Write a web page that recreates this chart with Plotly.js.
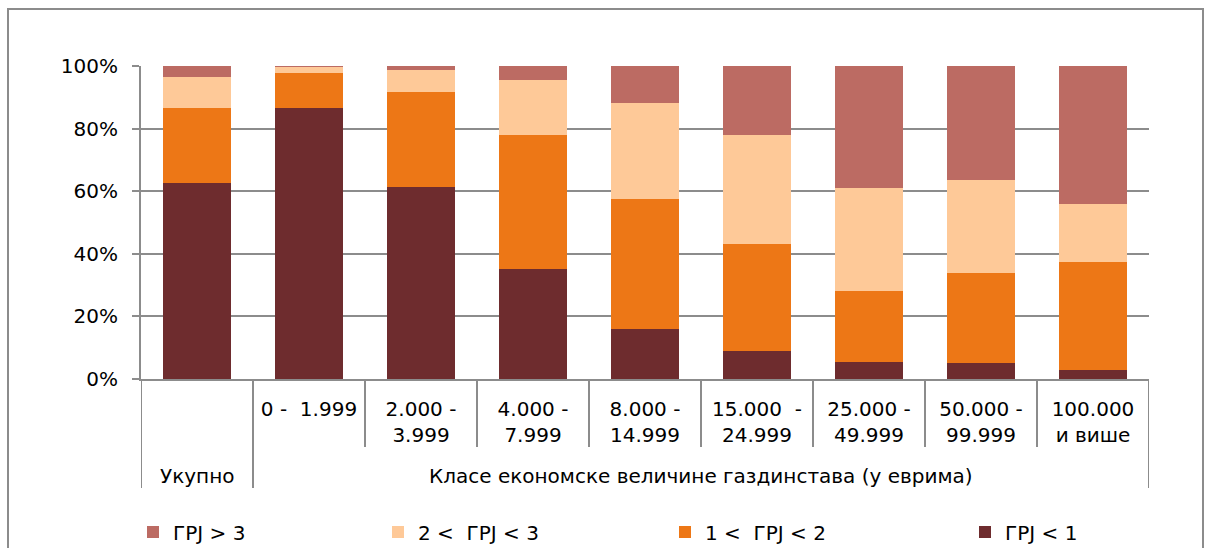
<!DOCTYPE html>
<html>
<head>
<meta charset="utf-8">
<script src="https://cdn.plot.ly/plotly-3.0.1.min.js"></script>
<style>
html,body{margin:0;padding:0;background:#fff;}
#chart{width:1205px;height:548px;}
</style>
</head>
<body>
<div id="chart"></div>
<script>
// Categories (x) and their displayed tick labels
const categories = ["Укупно", "0 - 1.999", "2.000 - 3.999", "4.000 - 7.999", "8.000 - 14.999",
  "15.000 - 24.999", "25.000 - 49.999", "50.000 - 99.999", "100.000 и више"];
const tickLabels = ["", "0 -\u00a0 1.999", "2.000 -<br>3.999", "4.000 -<br>7.999", "8.000 -<br>14.999",
  "15.000 \u00a0-<br>24.999", "25.000 -<br>49.999", "50.000 -<br>99.999", "100.000<br>и више"];
const groupTotal = "Укупно";
const groupClasses = "Класе економске величине газдинстава (у еврима)";

// Y ticks
const yTickValues = [0, 20, 40, 60, 80, 100];
const yTickLabels = ["0%", "20%", "40%", "60%", "80%", "100%"];

// Series (shares, %)
const grjBelow1 = [62.6, 86.7, 61.4, 35.0, 15.9, 9.0, 5.3, 5.1, 2.9];
const grj1to2   = [24.1, 11.2, 30.2, 42.8, 41.7, 34.1, 22.9, 28.7, 34.4];
const grj2to3   = [9.9, 1.9, 7.1, 17.7, 30.5, 34.7, 32.9, 29.7, 18.7];
const grjAbove3 = [3.4, 0.2, 1.3, 4.5, 11.9, 22.2, 38.9, 36.5, 44.0];

const seriesNames = ["ГРЈ < 1", "1 <\u00a0 ГРЈ < 2", "2 <\u00a0 ГРЈ < 3", "ГРЈ > 3"];
const seriesColors = ["#6E2C2E", "#ED7716", "#FEC998", "#BC6B63"];
const seriesData = [grjBelow1, grj1to2, grj2to3, grjAbove3];
const legendIds = ["legend4", "legend3", "legend2", "legend"];

const FONT = "DejaVu Sans, Verdana, sans-serif";
const FS = 20;

const traces = seriesData.map((vals, i) => ({
  type: "bar",
  x: categories,
  y: vals,
  name: seriesNames[i],
  marker: {color: seriesColors[i], line: {width: 0}},
  legend: legendIds[i],
  showlegend: true,
  hoverinfo: "x+y+name"
}));

// geometry helpers (plot area: x 141..1149, y 66..379)
const W = 1205, H = 548;
const plotTop = 66, plotBottom = 379, plotH = plotBottom - plotTop;
const plotLeft = 141, plotW = 1008;
const py = (pix) => (plotBottom - pix) / plotH;
const px = (pix) => (pix - plotLeft) / plotW;

const shapes = [];
// separators in the category table below the axis
for (let k = 0; k <= categories.length; k++) {
  const pos = k - 0.5;
  const isLong = (k === 0 || k === 1 || k === categories.length);
  shapes.push({
    type: "line", xref: "x", yref: "paper",
    x0: pos, x1: pos, y0: 0, y1: py(isLong ? 488 : 447),
    line: {color: "#8C8C8C", width: 2}
  });
}
// outer chart border
shapes.push({
  type: "rect", xref: "paper", yref: "paper",
  x0: px(8), x1: px(1203), y0: py(9), y1: py(560),
  line: {color: "#8C8C8C", width: 2}, fillcolor: "rgba(0,0,0,0)"
});

const annotations = [
  {xref: "x", yref: "paper", x: 0, y: py(476), text: groupTotal, showarrow: false,
   xanchor: "center", yanchor: "middle", font: {family: FONT, size: FS, color: "#000"}},
  {xref: "x", yref: "paper", x: 4.5, y: py(476), text: groupClasses, showarrow: false,
   xanchor: "center", yanchor: "middle", font: {family: FONT, size: FS, color: "#000"}}
];

const legendTextStarts = [173, 418, 705, 1005];
function mkLegend(i) {
  return {
    orientation: "h", xref: "container", yref: "container",
    x: (legendTextStarts[i] - 40) / W, y: (H - 532) / H,
    xanchor: "left", yanchor: "middle",
    font: {family: FONT, size: FS, color: "#000"},
    bgcolor: "rgba(0,0,0,0)", borderwidth: 0
  };
}

const layout = {
  width: W, height: H,
  margin: {l: plotLeft, r: W - plotLeft - plotW, t: plotTop, b: H - plotBottom, pad: 0, autoexpand: false},
  paper_bgcolor: "#fff", plot_bgcolor: "#fff",
  barmode: "stack",
  bargap: 0.385,
  font: {family: FONT, size: FS, color: "#000"},
  xaxis: {
    type: "category",
    categoryorder: "array", categoryarray: categories,
    tickvals: categories, ticktext: tickLabels,
    ticks: "", showgrid: false, zeroline: false,
    showline: true, linecolor: "#8C8C8C", linewidth: 2,
    ticklabelstandoff: 11,
    tickfont: {family: FONT, size: FS, color: "#000"},
    range: [-0.5, categories.length - 0.5],
    automargin: false,
    fixedrange: true
  },
  yaxis: {
    range: [0, 100], tickmode: "array", tickvals: yTickValues, ticktext: yTickLabels,
    ticks: "outside", ticklen: 7, tickcolor: "#8C8C8C", tickwidth: 2,
    showgrid: true, gridcolor: "#8C8C8C", gridwidth: 2,
    showline: true, linecolor: "#8C8C8C", linewidth: 2,
    zeroline: false,
    ticklabelstandoff: 10,
    tickfont: {family: FONT, size: FS, color: "#000"},
    automargin: false,
    fixedrange: true
  },
  shapes: shapes,
  annotations: annotations,
  legend: mkLegend(0),
  legend2: mkLegend(1),
  legend3: mkLegend(2),
  legend4: mkLegend(3),
  showlegend: true
};

Plotly.newPlot("chart", traces, layout, {displayModeBar: false, staticPlot: true});
</script>
</body>
</html>
